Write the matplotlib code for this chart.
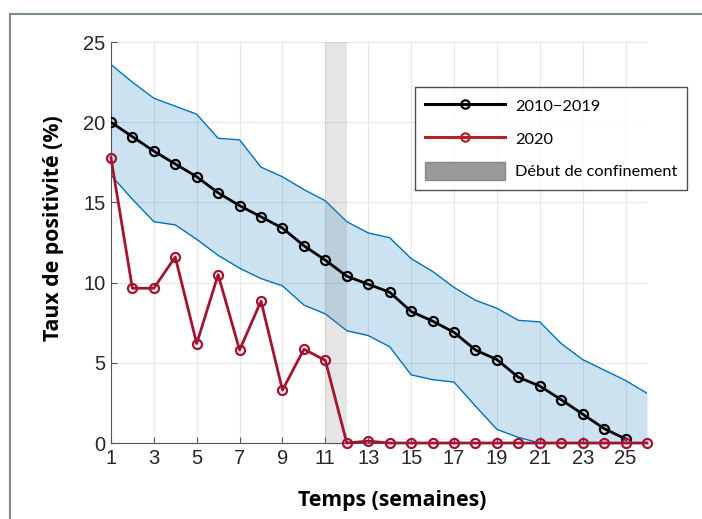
import matplotlib.pyplot as plt
import numpy as np
from matplotlib.lines import Line2D
from matplotlib.patches import Patch

# semaines 1..26
weeks = np.arange(1, 27)
# moyenne 2010-2019 (semaines 1..25)
mean_2010_2019 = [20.0, 19.1, 18.2, 17.4, 16.6, 15.6, 14.8, 14.1, 13.4, 12.3,
                  11.4, 10.4, 9.9, 9.4, 8.2, 7.6, 6.9, 5.8, 5.2, 4.1,
                  3.55, 2.7, 1.8, 0.9, 0.25]
# enveloppe min / max 2010-2019
upper_band = [23.6, 22.5, 21.5, 21.0, 20.5, 19.0, 18.9, 17.2, 16.6, 15.8,
              15.1, 13.8, 13.1, 12.8, 11.5, 10.7, 9.7, 8.9, 8.4, 7.65,
              7.55, 6.2, 5.2, 4.55, 3.9, 3.1]
lower_band = [16.7, 15.2, 13.8, 13.6, 12.7, 11.7, 10.9, 10.25, 9.8, 8.6,
              8.05, 7.0, 6.7, 6.0, 4.25, 3.95, 3.8, 2.3, 0.85, 0.35,
              0.0, 0.0, 0.0, 0.0, 0.0, 0.0]
# 2020
rate_2020 = [17.8, 9.65, 9.65, 11.6, 6.2, 10.5, 5.8, 8.85, 3.3, 5.85,
             5.15, 0.0, 0.12, 0.0, 0.0, 0.0, 0.0, 0.0, 0.0, 0.0,
             0.0, 0.0, 0.0, 0.0, 0.0, 0.0]
lockdown_start = (11, 12)

xticks = list(range(1, 26, 2))
yticks = [0, 5, 10, 15, 20, 25]

blue = '#0072BD'
red = '#A2142F'

fig = plt.figure(figsize=(7.02, 5.19), dpi=100)
ax = fig.add_axes([0.158, 0.1464, 0.7637, 0.7726])

ax.fill_between(weeks, lower_band, upper_band, color=blue, alpha=0.2, linewidth=0, zorder=1)
ax.plot(weeks, upper_band, color=blue, lw=1, zorder=2)
ax.plot(weeks, lower_band, color=blue, lw=1, zorder=2)
ax.axvspan(lockdown_start[0], lockdown_start[1], color='#808080', alpha=0.2, lw=0, zorder=2)

ax.plot(weeks[:len(mean_2010_2019)], mean_2010_2019, color='black', lw=2,
        marker='o', ms=6.5, mfc='none', mew=1.6, zorder=4)
ax.plot(weeks, rate_2020, color=red, lw=2,
        marker='o', ms=6.5, mfc='none', mew=1.6, zorder=5, clip_on=False)

ax.set_xlim(1, 26)
ax.set_ylim(0, 25)
ax.set_xticks(xticks)
ax.set_yticks(yticks)
ax.grid(True, color='#e6e6e6', lw=0.8, zorder=0)
ax.set_axisbelow(True)
for s in ['top', 'right']:
    ax.spines[s].set_visible(False)
for s in ['left', 'bottom']:
    ax.spines[s].set_color('#555555')
    ax.spines[s].set_linewidth(0.8)
ax.tick_params(direction='in', length=4, color='#555555', labelsize=14.5,
               labelcolor='#262626', pad=4)
for lab in ax.get_xticklabels() + ax.get_yticklabels():
    lab.set_family('Liberation Sans')

ax.set_ylabel('Taux de positivité (%)', fontsize=15.3, fontweight='bold', family='Open Sans')
ax.yaxis.set_label_coords(-0.088, 0.536)
ax.set_xlabel('Temps (semaines)', fontsize=15.3, fontweight='bold', family='Open Sans')
ax.xaxis.set_label_coords(0.524, -0.118)

handles = [
    Line2D([], [], color='black', lw=2.2, marker='o', ms=6, mfc='none', mew=1.6),
    Line2D([], [], color='#B22222', lw=2.2, marker='o', ms=6, mfc='none', mew=1.6),
    Patch(facecolor='#999999', edgecolor='#888888'),
]
leg = ax.legend(handles, ['2010\u22122019', '2020', 'Début de confinement'],
                loc='upper left', bbox_to_anchor=(0.567, 0.888), borderaxespad=0,
                frameon=True, fancybox=False, edgecolor='#222222',
                handlelength=4.9, handleheight=1.3, handletextpad=0.6,
                labelspacing=0.9, borderpad=0.6,
                prop={'family': 'Lato', 'size': 11.8})
leg.get_frame().set_linewidth(1.0)
leg.set_zorder(10)

# cadre de la figure (coupé à droite et en bas)
fig.add_artist(Line2D([10 / 702, 1], [1 - 14 / 519, 1 - 14 / 519], color='#7b8a8e', lw=1.5))
fig.add_artist(Line2D([10 / 702, 10 / 702], [0, 1 - 14 / 519], color='#7b8a8e', lw=1.5))

fig.savefig('out.png', dpi=100)
